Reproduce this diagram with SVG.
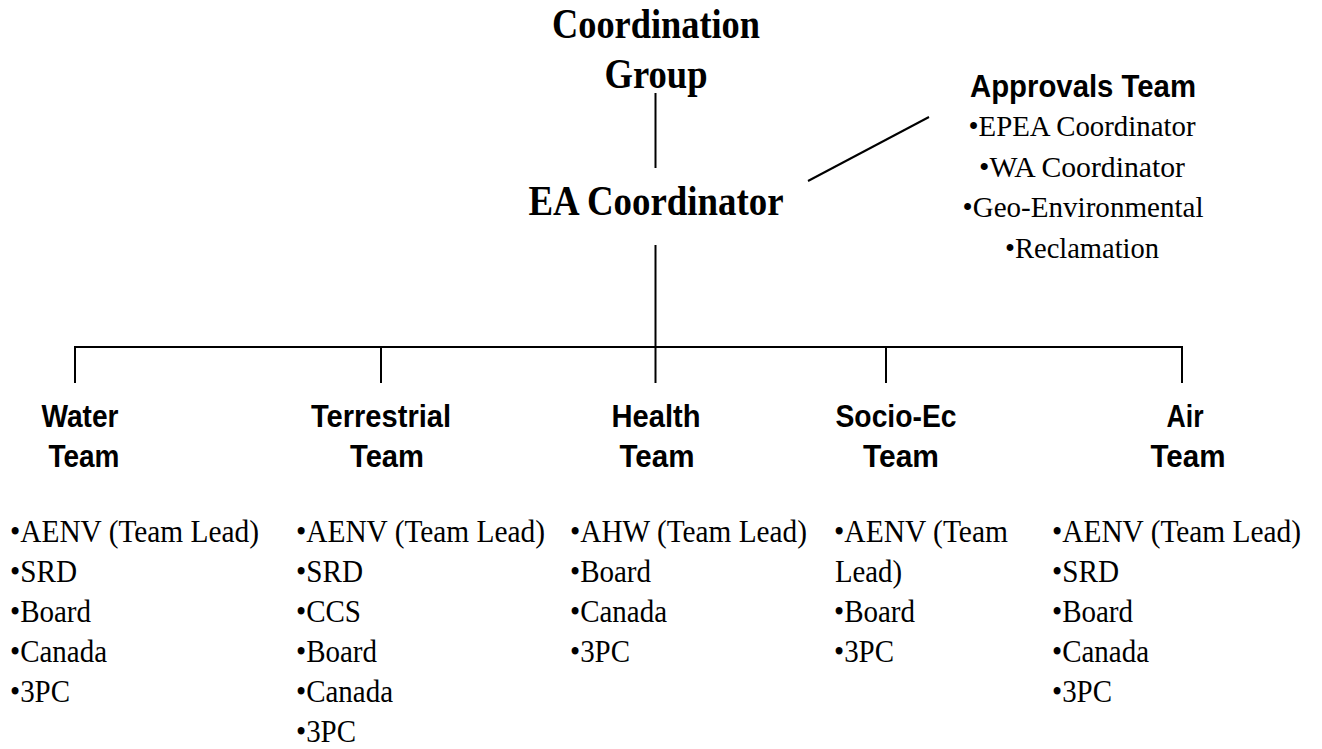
<svg xmlns="http://www.w3.org/2000/svg" width="1322" height="749" viewBox="0 0 1322 749">
<style>
.t{font-family:"Liberation Serif","Times New Roman",serif;font-weight:bold;font-size:42px;fill:#000;text-anchor:middle}
.h{font-family:"Liberation Sans",Arial,sans-serif;font-weight:bold;font-size:31px;fill:#000;text-anchor:middle}
.a{font-family:"Liberation Serif","Times New Roman",serif;font-size:30px;fill:#000;text-anchor:middle}
.i{font-family:"Liberation Serif","Times New Roman",serif;font-size:32px;fill:#000}
.ln{stroke:#000;stroke-width:2;fill:none}
</style>
<rect width="1322" height="749" fill="#fff"/>
<g id="connectors" class="ln">
<line x1="655.5" y1="93" x2="655.5" y2="168"/>
<line x1="655.5" y1="245" x2="655.5" y2="347"/>
<line x1="808" y1="181" x2="929" y2="117"/>
<line x1="74" y1="347" x2="1183" y2="347"/>
<line x1="75" y1="347" x2="75" y2="383"/>
<line x1="381" y1="347" x2="381" y2="383"/>
<line x1="655.5" y1="347" x2="655.5" y2="383"/>
<line x1="886" y1="347" x2="886" y2="383"/>
<line x1="1182" y1="347" x2="1182" y2="383"/>
</g>
<g id="coordination-group">
<text class="t" x="656" y="38" textLength="208" lengthAdjust="spacingAndGlyphs">Coordination</text>
<text class="t" x="656" y="88" textLength="103" lengthAdjust="spacingAndGlyphs">Group</text>
</g>
<g id="ea-coordinator">
<text class="t" x="656" y="215" textLength="255" lengthAdjust="spacingAndGlyphs">EA Coordinator</text>
</g>
<g id="approvals-team">
<text class="h" x="1083" y="97" textLength="226" lengthAdjust="spacingAndGlyphs">Approvals Team</text>
<text class="a" x="1082" y="136" textLength="227" lengthAdjust="spacingAndGlyphs">•EPEA Coordinator</text>
<text class="a" x="1082" y="177" textLength="206" lengthAdjust="spacingAndGlyphs">•WA Coordinator</text>
<text class="a" x="1083" y="217" textLength="241" lengthAdjust="spacingAndGlyphs">•Geo-Environmental</text>
<text class="a" x="1082" y="258" textLength="154" lengthAdjust="spacingAndGlyphs">•Reclamation</text>
</g>
<g id="water-team">
<text class="h" x="80" y="427" textLength="77" lengthAdjust="spacingAndGlyphs">Water</text>
<text class="h" x="84" y="467" textLength="71" lengthAdjust="spacingAndGlyphs">Team</text>
<text class="i" x="10" y="542" textLength="249" lengthAdjust="spacingAndGlyphs">•AENV (Team Lead)</text>
<text class="i" x="10" y="582" textLength="67" lengthAdjust="spacingAndGlyphs">•SRD</text>
<text class="i" x="10" y="622" textLength="81" lengthAdjust="spacingAndGlyphs">•Board</text>
<text class="i" x="10" y="662" textLength="97" lengthAdjust="spacingAndGlyphs">•Canada</text>
<text class="i" x="10" y="702" textLength="60" lengthAdjust="spacingAndGlyphs">•3PC</text>
</g>
<g id="terrestrial-team">
<text class="h" x="381" y="427" textLength="140" lengthAdjust="spacingAndGlyphs">Terrestrial</text>
<text class="h" x="387" y="467" textLength="74" lengthAdjust="spacingAndGlyphs">Team</text>
<text class="i" x="296" y="542" textLength="249" lengthAdjust="spacingAndGlyphs">•AENV (Team Lead)</text>
<text class="i" x="296" y="582" textLength="67" lengthAdjust="spacingAndGlyphs">•SRD</text>
<text class="i" x="296" y="622" textLength="65" lengthAdjust="spacingAndGlyphs">•CCS</text>
<text class="i" x="296" y="662" textLength="81" lengthAdjust="spacingAndGlyphs">•Board</text>
<text class="i" x="296" y="702" textLength="97" lengthAdjust="spacingAndGlyphs">•Canada</text>
<text class="i" x="296" y="742" textLength="60" lengthAdjust="spacingAndGlyphs">•3PC</text>
</g>
<g id="health-team">
<text class="h" x="656" y="427" textLength="89" lengthAdjust="spacingAndGlyphs">Health</text>
<text class="h" x="657" y="467" textLength="75" lengthAdjust="spacingAndGlyphs">Team</text>
<text class="i" x="570" y="542" textLength="237" lengthAdjust="spacingAndGlyphs">•AHW (Team Lead)</text>
<text class="i" x="570" y="582" textLength="81" lengthAdjust="spacingAndGlyphs">•Board</text>
<text class="i" x="570" y="622" textLength="97" lengthAdjust="spacingAndGlyphs">•Canada</text>
<text class="i" x="570" y="662" textLength="60" lengthAdjust="spacingAndGlyphs">•3PC</text>
</g>
<g id="socio-ec-team">
<text class="h" x="896" y="427" textLength="121" lengthAdjust="spacingAndGlyphs">Socio-Ec</text>
<text class="h" x="901" y="467" textLength="76" lengthAdjust="spacingAndGlyphs">Team</text>
<text class="i" x="834" y="542" textLength="174" lengthAdjust="spacingAndGlyphs">•AENV (Team</text>
<text class="i" x="835" y="582" textLength="67" lengthAdjust="spacingAndGlyphs">Lead)</text>
<text class="i" x="834" y="622" textLength="81" lengthAdjust="spacingAndGlyphs">•Board</text>
<text class="i" x="834" y="662" textLength="60" lengthAdjust="spacingAndGlyphs">•3PC</text>
</g>
<g id="air-team">
<text class="h" x="1185" y="427" textLength="37" lengthAdjust="spacingAndGlyphs">Air</text>
<text class="h" x="1188" y="467" textLength="75" lengthAdjust="spacingAndGlyphs">Team</text>
<text class="i" x="1052" y="542" textLength="249" lengthAdjust="spacingAndGlyphs">•AENV (Team Lead)</text>
<text class="i" x="1052" y="582" textLength="67" lengthAdjust="spacingAndGlyphs">•SRD</text>
<text class="i" x="1052" y="622" textLength="81" lengthAdjust="spacingAndGlyphs">•Board</text>
<text class="i" x="1052" y="662" textLength="97" lengthAdjust="spacingAndGlyphs">•Canada</text>
<text class="i" x="1052" y="702" textLength="60" lengthAdjust="spacingAndGlyphs">•3PC</text>
</g>
</svg>
